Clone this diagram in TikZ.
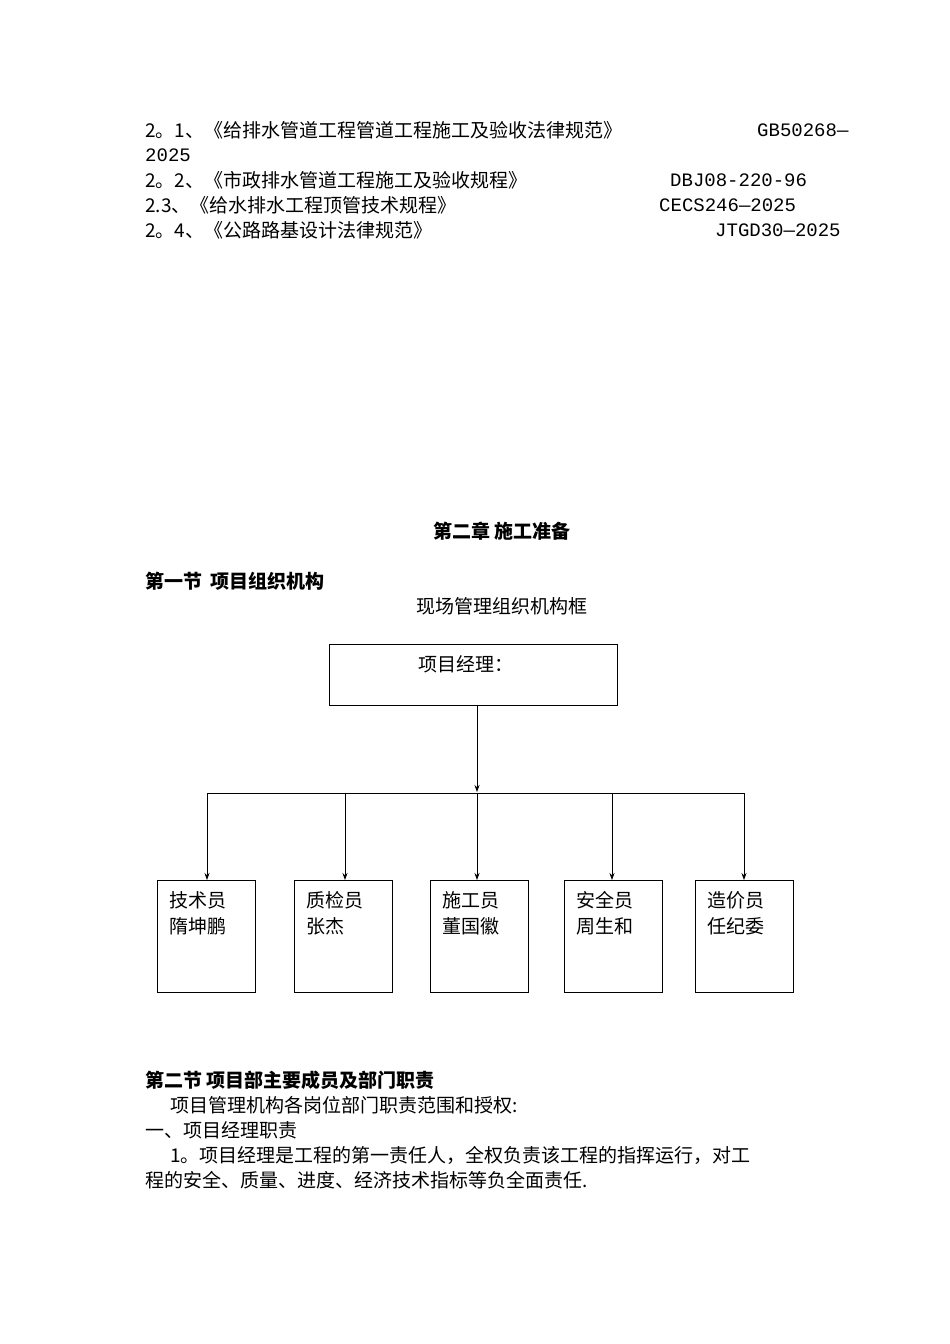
\documentclass[tikz,border=0pt]{standalone}
\usepackage{fontspec}
\usetikzlibrary{arrows.meta}
\setmainfont{Liberation Serif}
\newfontfamily\cjk{Noto Sans CJK SC}
\newfontfamily\mono{Liberation Mono}
\begin{document}
\begin{tikzpicture}[x=1pt,y=-1pt,
  txt/.style={anchor=west,inner sep=0pt,font=\cjk\fontsize{19}{19}\selectfont},
  mtxt/.style={anchor=west,inner sep=0pt,font=\mono\fontsize{19}{19}\selectfont},
  btxt/.style={anchor=west,inner sep=0pt,font=\cjk\bfseries\fontsize{19}{19}\selectfont},
  box/.style={draw,line width=0.8pt},
  arr/.style={-{Stealth[length=7pt,width=5pt]},line width=0.8pt}]
\useasboundingbox (0,0) rectangle (950,1344);
\node[txt] (l1) at (145,130) {2。1、《给排水管道工程管道工程施工及验收法律规范》};
\node[mtxt] (c1) at (757,130) {GB50268—};
\node[mtxt] (l1b) at (145,155) {2025};
\node[txt] (l2) at (145,180) {2。2、《市政排水管道工程施工及验收规程》};
\node[mtxt] (c2) at (670,180) {DBJ08-220-96};
\node[txt] (l3) at (145,205) {2.3、《给水排水工程顶管技术规程》};
\node[mtxt] (c3) at (659,205) {CECS246—2025};
\node[txt] (l4) at (145,230) {2。4、《公路路基设计法律规范》};
\node[mtxt] (c4) at (715,230) {JTGD30—2025};
\node[btxt,anchor=center] (t) at (502,531) {第二章 施工准备};
\node[btxt] (s1) at (145,581) {第一节\ \ 项目组织机构};
\node[txt,anchor=center] (cap) at (502,606) {现场管理组织机构框};
\draw[box] (329,644) rectangle (617,705);
\node[txt] (pm) at (418,664) {项目经理：};
\coordinate (top) at (477,705);
\draw[arr] (top) -- (477,792);
\draw[line width=0.8pt] (207,793) -- (744,793);
\foreach \x/\a/\b [count=\i] in {157/技术员/隋坤鹏,294/质检员/张杰,430/施工员/董国徽,564/安全员/周生和,695/造价员/任纪委}{
  \draw[box] (\x,880) rectangle (\x+98,992);
  \node[txt] (n\i a) at (\x+12,900) {\a};
  \node[txt] (n\i b) at (\x+12,926) {\b};
}
\foreach \x in {207,345,477,612,744}{\draw[arr] (\x,793) -- (\x,880);}
\node[btxt] (s2) at (145,1080) {第二节 项目部主要成员及部门职责};
\node[txt] (p1) at (170,1105) {项目管理机构各岗位部门职责范围和授权:};
\node[txt] (p2) at (145,1130) {一、项目经理职责};
\node[txt] (p3) at (170,1155) {1。项目经理是工程的第一责任人，全权负责该工程的指挥运行，对工};
\node[txt] (p4) at (145,1180) {程的安全、质量、进度、经济技术指标等负全面责任.};
\end{tikzpicture}
\end{document}
